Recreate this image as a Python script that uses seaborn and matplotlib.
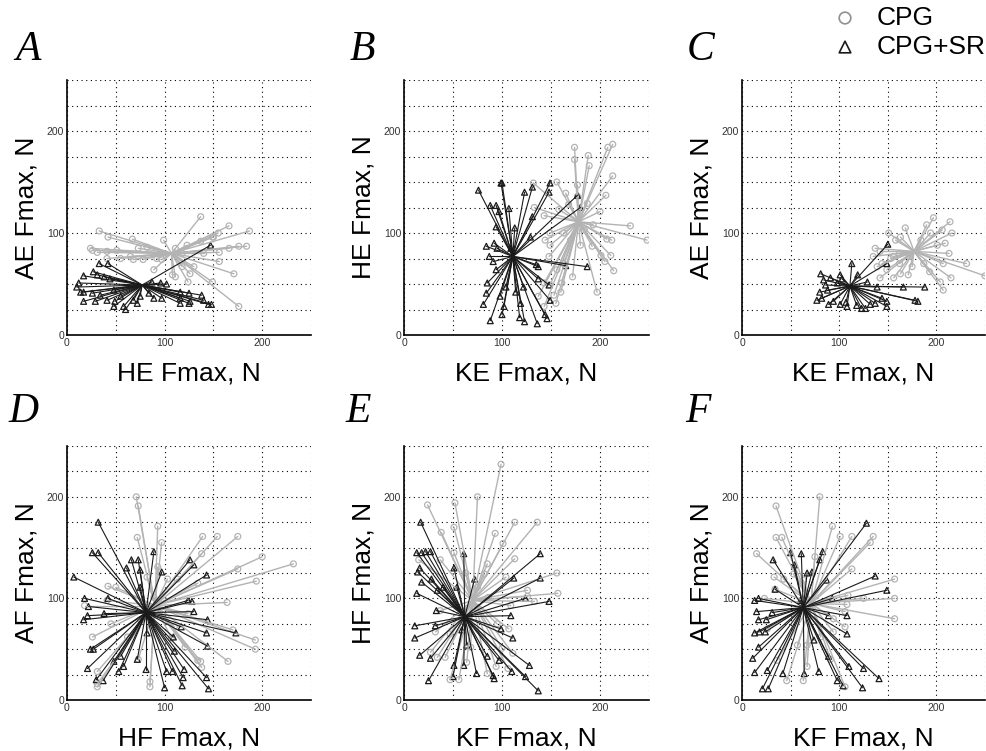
import numpy as np
import pandas as pd
import matplotlib
matplotlib.use("Agg")
import matplotlib.pyplot as plt
import seaborn as sns

sns.set_style("white")
plt.rcParams['font.family'] = ['Liberation Sans', 'DejaVu Sans']
plt.rcParams['text.color'] = 'black'
plt.rcParams['axes.labelcolor'] = 'black'

# ---------------- data (Fmax, N) ----------------
panel_letters = ["A", "B", "C", "D", "E", "F"]
x_labels = ["HE Fmax, N", "KE Fmax, N", "KE Fmax, N", "HF Fmax, N", "KF Fmax, N", "KF Fmax, N"]
y_labels = ["AE Fmax, N", "HE Fmax, N", "AE Fmax, N", "AF Fmax, N", "HF Fmax, N", "AF Fmax, N"]
series_names = ["CPG", "CPG+SR"]

# Panel A
A_cpg_hub = (107, 80)
A_cpg_x = [33, 42, 67, 99, 137, 166, 187, 155, 149, 24, 26, 31, 41, 51, 55, 65, 73, 82, 41, 68, 78, 92,
           108, 111, 118, 126, 124, 140, 156, 149, 171, 176, 176, 184, 166, 156, 123, 111, 97, 89, 137, 150, 118, 130]
A_cpg_y = [102, 96, 94, 93, 116, 107, 102, 100, 96, 85, 83, 81, 82, 83, 75, 77, 85, 86, 75, 74, 74, 75,
           59, 57, 67, 60, 52, 80, 72, 52, 60, 28, 87, 87, 85, 81, 88, 85, 74, 64, 92, 96, 80, 67]
A_sr_hub = (77, 49)
A_sr_x = [33, 42, 17, 27, 31, 38, 44, 12, 10, 14, 17, 26, 34, 17, 29, 41, 49, 48, 58, 60, 72, 75, 84, 89, 97,
          87, 96, 102, 116, 116, 125, 125, 126, 138, 140, 145, 148, 147, 55, 68, 48, 116]
A_sr_y = [70, 70, 58, 62, 59, 57, 55, 51, 47, 42, 42, 41, 39, 33, 33, 34, 33, 28, 28, 25, 31, 38, 41, 36, 36,
          52, 51, 50, 36, 42, 41, 31, 33, 39, 34, 30, 30, 88, 38, 34, 44, 31]

# Panel B
B_cpg_hub = (178, 111)
B_cpg_x = [174, 174, 188, 189, 208, 213, 213, 206, 200, 132, 156, 165, 177, 133, 143, 158, 231, 248, 193, 207,
           212, 192, 201, 211, 205, 214, 197, 184, 180, 172, 161, 160, 149, 153, 155, 143, 137, 143, 148, 149,
           163, 156, 163, 170, 149, 144, 187, 168, 177]
B_cpg_y = [184, 172, 176, 166, 184, 187, 156, 137, 121, 149, 150, 139, 147, 125, 117, 123, 107, 93, 108, 94,
           93, 87, 78, 78, 72, 63, 42, 103, 88, 57, 51, 42, 49, 39, 31, 28, 38, 51, 77, 88,
           70, 64, 100, 93, 100, 93, 129, 128, 136]
B_sr_hub = (111, 77)
B_sr_x = [76, 99, 100, 123, 131, 149, 148, 88, 94, 97, 107, 94, 113, 131, 129, 177, 180, 84, 92, 95, 87, 91,
          94, 85, 84, 81, 88, 100, 102, 98, 104, 114, 118, 123, 119, 122, 136, 144, 146, 149, 148, 135, 137,
          165, 187, 109, 137]
B_sr_y = [142, 149, 149, 140, 145, 149, 140, 127, 127, 121, 124, 106, 105, 116, 96, 137, 125, 87, 90, 85, 77, 72,
          64, 51, 41, 30, 14, 20, 28, 38, 47, 42, 17, 13, 31, 47, 11, 20, 16, 34, 49, 69, 67,
          68, 67, 85, 55]

# Panel C
C_cpg_hub = (177, 82)
C_cpg_x = [151, 163, 168, 190, 197, 214, 206, 216, 137, 142, 153, 135, 162, 144, 149, 156, 163, 171, 175, 193,
           204, 207, 215, 231, 250, 207, 213, 201, 209, 172, 156, 139, 158, 184, 194, 187, 162, 142]
C_cpg_y = [100, 96, 105, 108, 115, 111, 103, 100, 85, 82, 75, 77, 80, 70, 64, 56, 60, 59, 67, 62,
           52, 44, 56, 70, 58, 70, 80, 88, 90, 77, 77, 67, 93, 93, 100, 70, 70, 56]
C_sr_hub = (111, 48)
C_sr_x = [81, 91, 101, 103, 113, 119, 150, 149, 84, 86, 80, 88, 77, 82, 89, 94, 101, 107, 108, 118, 123, 127,
          132, 137, 144, 149, 149, 166, 188, 178, 181, 139, 129, 98]
C_sr_y = [60, 56, 59, 55, 70, 59, 89, 70, 54, 49, 42, 44, 34, 36, 30, 33, 30, 32, 28, 29, 26, 26,
          30, 31, 36, 33, 28, 47, 47, 34, 33, 47, 52, 51]

# Panel D
D_cpg_hub = (90, 93)
D_cpg_x = [71, 73, 72, 93, 97, 139, 154, 175, 138, 200, 232, 175, 194, 134, 113, 103, 42, 50, 18, 41, 164, 170,
           193, 193, 165, 137, 138, 121, 107, 26, 31, 31, 31, 85, 73, 85, 82, 93, 62, 75, 124, 110, 134, 45, 89]
D_cpg_y = [200, 191, 160, 171, 155, 161, 161, 161, 144, 141, 134, 129, 117, 115, 119, 119, 112, 111, 93, 98, 96, 69,
           59, 50, 38, 38, 32, 52, 61, 62, 28, 13, 16, 13, 40, 18, 121, 131, 62, 79, 85, 72, 39, 75, 101]
D_sr_hub = (81, 86)
D_sr_x = [32, 26, 32, 7, 18, 22, 17, 21, 38, 42, 66, 73, 61, 75, 89, 97, 126, 130, 143, 128, 124, 130, 144, 143,
          144, 173, 117, 109, 110, 102, 108, 119, 120, 118, 100, 143, 145, 81, 72, 53, 58, 55, 48, 21, 24, 27,
          30, 37, 82, 75]
D_sr_y = [175, 145, 145, 121, 100, 92, 79, 83, 85, 100, 138, 138, 130, 128, 146, 126, 138, 133, 123, 97, 98, 87, 79, 66,
          53, 66, 72, 62, 48, 28, 28, 22, 30, 14, 12, 22, 11, 30, 40, 28, 33, 43, 38, 31, 50, 50,
          20, 19, 66, 111]

# Panel E
E_cpg_hub = (70, 98)
E_cpg_x = [99, 75, 24, 52, 51, 38, 93, 101, 113, 136, 113, 85, 51, 37, 15, 104, 156, 157, 126, 133, 126, 109,
           107, 75, 86, 37, 32, 34, 42, 27, 64, 47, 56, 85, 94, 106, 111, 100, 95, 68, 47, 63, 82]
E_cpg_y = [232, 200, 192, 194, 170, 165, 164, 154, 175, 175, 139, 134, 145, 138, 138, 121, 125, 105, 108, 97, 102, 93,
           70, 111, 101, 88, 67, 42, 42, 47, 37, 20, 20, 26, 33, 31, 46, 51, 75, 52, 65, 125, 124]
E_sr_hub = (62, 82)
E_sr_x = [17, 13, 18, 22, 27, 14, 16, 18, 13, 11, 11, 16, 25, 27, 32, 33, 34, 28, 40, 51, 61, 72, 54, 109,
          111, 99, 112, 124, 139, 139, 148, 128, 124, 110, 91, 92, 74, 51, 61, 50, 137, 85, 97, 64, 59]
E_sr_y = [175, 145, 145, 146, 146, 126, 130, 116, 105, 73, 61, 44, 19, 41, 73, 88, 108, 119, 111, 130, 144, 119, 111, 83,
          61, 70, 120, 100, 120, 144, 97, 34, 23, 28, 24, 21, 26, 34, 34, 23, 9, 43, 39, 54, 69]

# Panel F
F_cpg_hub = (71, 95)
F_cpg_x = [80, 35, 35, 41, 93, 101, 113, 135, 132, 15, 75, 113, 157, 157, 157, 125, 109, 108, 106, 94, 94, 81,
           67, 57, 67, 63, 46, 106, 26, 23, 34, 43, 33, 53, 36, 63, 106, 91]
F_cpg_y = [200, 191, 160, 160, 171, 161, 161, 161, 155, 144, 141, 129, 119, 100, 80, 100, 103, 94, 87, 80, 67, 62,
           54, 54, 33, 19, 19, 13, 70, 100, 109, 119, 121, 124, 39, 118, 72, 40]
F_sr_hub = (63, 91)
F_sr_x = [128, 50, 61, 54, 67, 72, 83, 80, 87, 32, 34, 13, 17, 15, 31, 17, 25, 13, 18, 24, 17, 11, 13, 26,
          21, 27, 42, 64, 79, 74, 89, 108, 108, 137, 149, 110, 125, 124, 104, 98, 141, 89, 93, 60]
F_sr_y = [174, 145, 144, 133, 125, 126, 146, 138, 118, 138, 109, 98, 100, 87, 86, 79, 79, 66, 67, 67, 52, 41, 27, 29,
          11, 11, 26, 26, 28, 59, 83, 83, 65, 122, 108, 33, 31, 12, 14, 19, 21, 43, 100, 98]

panels = [
    (A_cpg_hub, A_cpg_x, A_cpg_y, A_sr_hub, A_sr_x, A_sr_y),
    (B_cpg_hub, B_cpg_x, B_cpg_y, B_sr_hub, B_sr_x, B_sr_y),
    (C_cpg_hub, C_cpg_x, C_cpg_y, C_sr_hub, C_sr_x, C_sr_y),
    (D_cpg_hub, D_cpg_x, D_cpg_y, D_sr_hub, D_sr_x, D_sr_y),
    (E_cpg_hub, E_cpg_x, E_cpg_y, E_sr_hub, E_sr_x, E_sr_y),
    (F_cpg_hub, F_cpg_x, F_cpg_y, F_sr_hub, F_sr_x, F_sr_y),
]

GRAY = "#b3b3b3"
BLACK = "#1a1a1a"

W, H = 986, 751
fig = plt.figure(figsize=(W / 100, H / 100), dpi=100)

# axes rectangles in pixels: (left, top, right, bottom)
rects = [(67, 80, 311, 335), (404, 80, 649, 335), (742, 80, 985, 335),
         (67, 446, 311, 700), (404, 446, 649, 700), (742, 446, 985, 700)]
letter_pos = [(15, 60), (350, 60), (687, 60), (8, 422), (345, 422), (685, 422)]


def star_frame(hub, xs, ys):
    rows = []
    for i, (x, y) in enumerate(zip(xs, ys)):
        rows.append({"seg": i, "x": hub[0], "y": hub[1], "order": 0})
        rows.append({"seg": i, "x": x, "y": y, "order": 1})
    return pd.DataFrame(rows)


for k, (cpg_hub, cx, cy, sr_hub, sx, sy) in enumerate(panels):
    l, t, r, b = rects[k]
    ax = fig.add_axes([l / W, 1 - b / H, (r - l) / W, (b - t) / H])
    ax.set_axisbelow(True)

    for hub, xs, ys, col, lw, mk in [(cpg_hub, cx, cy, GRAY, 1.0, "o"),
                                     (sr_hub, sx, sy, BLACK, 0.8, "^")]:
        df = star_frame(hub, xs, ys)
        sns.lineplot(data=df, x="x", y="y", units="seg", estimator=None, sort=False,
                     color=col, linewidth=lw, ax=ax, legend=False)
        sns.scatterplot(x=list(xs), y=list(ys), marker=mk, s=18, ax=ax, legend=False)
        pts = ax.collections[-1]
        pts.set_facecolor("none")
        pts.set_edgecolor(col)
        pts.set_linewidth(0.9)

    ax.set_xlim(0, 250)
    ax.set_ylim(0, 250)
    xt = np.arange(0, 251, 50)
    yt = np.arange(0, 251, 25)
    ax.set_xticks(xt)
    ax.set_yticks(yt)
    ax.set_xticklabels([str(v) if v % 100 == 0 else "" for v in xt])
    ax.set_yticklabels([str(v) if v % 100 == 0 else "" for v in yt])
    ax.tick_params(direction="in", length=3, width=0.8, labelsize=7.5, labelcolor="#333333",
                   pad=2, color="k")
    ax.grid(True, color="k", linestyle=(0, (1, 3.2)), linewidth=0.8)
    for s in ["top", "right"]:
        ax.spines[s].set_visible(False)
    for s in ["left", "bottom"]:
        ax.spines[s].set_color("k")
        ax.spines[s].set_linewidth(1.2)
    ax.set_xlabel(x_labels[k], fontsize=19, labelpad=10)
    ax.set_ylabel(y_labels[k], fontsize=19, labelpad=6)

    lx, ly = letter_pos[k]
    fig.text(lx / W, 1 - ly / H, panel_letters[k], fontsize=30, style="italic",
             family=["Liberation Serif", "DejaVu Serif"], ha="left", va="baseline")

# legend
leg_ax = fig.add_axes([0, 0, 1, 1], facecolor="none")
leg_ax.set_axis_off()
leg_ax.set_xlim(0, W)
leg_ax.set_ylim(H, 0)
leg_ax.scatter([845], [18], marker="o", s=70, facecolor="none", edgecolor="#909090", linewidth=1.2)
leg_ax.scatter([845], [47], marker="^", s=70, facecolor="none", edgecolor=BLACK, linewidth=1.2)
leg_ax.text(877, 18, series_names[0], fontsize=19, va="center", ha="left")
leg_ax.text(877, 47, series_names[1], fontsize=19, va="center", ha="left")

fig.savefig("out.png", dpi=100)
